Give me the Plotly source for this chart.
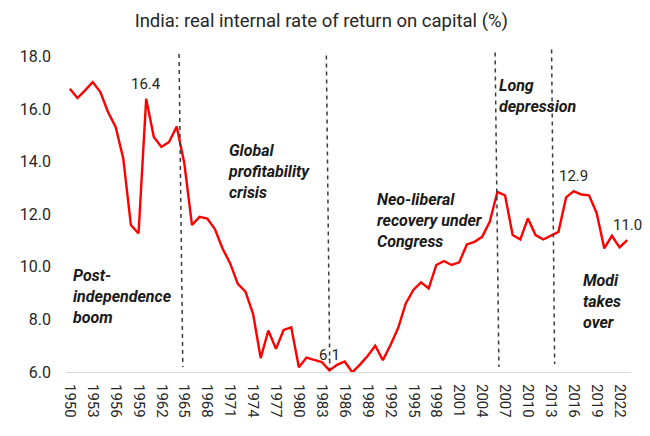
import plotly.graph_objects as go

# Real internal rate of return on capital, India (%)
years = list(range(1950, 2024))
irr = [
    16.77, 16.42, 16.71, 17.03, 16.65, 15.89, 15.32, 14.12, 11.59, 11.27,  # 1950-59
    16.39, 14.94, 14.56, 14.75, 15.34, 13.93, 11.59, 11.90, 11.84, 11.44,  # 1960-69
    10.70, 10.13, 9.35, 9.06, 8.21, 6.53, 7.58, 6.88, 7.60, 7.70,          # 1970-79
    6.18, 6.55, 6.46, 6.38, 6.06, 6.27, 6.40, 5.99, 6.28, 6.61,            # 1980-89
    7.00, 6.45, 7.03, 7.67, 8.61, 9.12, 9.41, 9.18, 10.07, 10.22,          # 1990-99
    10.07, 10.17, 10.85, 10.95, 11.14, 11.71, 12.85, 12.72, 11.21, 11.04,  # 2000-09
    11.84, 11.21, 11.04, 11.17, 11.33, 12.64, 12.88, 12.75, 12.72, 12.05,  # 2010-19
    10.70, 11.18, 10.74, 11.02,                                            # 2020-23
]
tick_years = list(range(1950, 2023, 3))
ytick_vals = [6, 8, 10, 12, 14, 16, 18]

labelled_years = [1960, 1984, 2016, 2023]

# dashed period separators (hand drawn, slightly slanted): (x_top, y_top, x_bottom, y_bottom)
separators = [
    (1964.3, 18.10, 1964.8, 6.19),
    (1983.6, 18.04, 1984.05, 6.08),
    (2005.7, 18.15, 2006.2, 6.19),
    (2013.1, 18.27, 2013.5, 6.30),
]

periods = [
    ("Post-<br>independence<br>boom", 1950.1, 8.89),
    ("Global<br>profitability<br>crisis", 1970.4, 13.64),
    ("Neo-liberal<br>recovery under<br>Congress", 1990.0, 11.78),
    ("Long<br>depression", 2006.0, 16.5),
    ("Modi<br>takes<br>over", 2017.0, 8.70),
]

FONT = "Roboto"

fig = go.Figure()
fig.add_trace(go.Scatter(
    x=years, y=irr,
    mode='lines',
    line=dict(color='#FF0000', width=2.4),
    hoverinfo='skip',
))

for x0, y0, x1, y1 in separators:
    fig.add_shape(type='line', xref='x', yref='y',
                  x0=x0, y0=y0, x1=x1, y1=y1,
                  line=dict(color='#3a3a3a', width=1.5, dash='4px,4px'))

for yr in labelled_years:
    v = irr[years.index(yr)]
    fig.add_annotation(x=yr, y=v, text=f"{v:.1f}", showarrow=False,
                       yanchor='bottom', yshift=4,
                       font=dict(family=FONT, size=15, color='#262626'))

for txt, x, y in periods:
    fig.add_annotation(x=x, y=y, text=f"<b><i>{txt}</i></b>", showarrow=False,
                       xanchor='left', yanchor='middle', align='left',
                       font=dict(family=FONT, size=16, color='#1a1a1a'))

# the page body adds an 8px offset, so margins are shifted by that much
fig.update_layout(
    width=650, height=436,
    paper_bgcolor='white', plot_bgcolor='white',
    showlegend=False,
    margin=dict(l=47, r=27, t=37.5, b=72),
    title=dict(text="India: real internal rate of return on capital (%)",
               x=0.482, xanchor='center', y=0.972, yanchor='middle',
               font=dict(family=FONT, size=18.5, color='#262626')),
    font=dict(family=FONT, color='#262626'),
)
fig.update_xaxes(range=[1949.5, 2023.5], tickvals=tick_years, tickangle=90,
                 showgrid=False, zeroline=False,
                 showline=True, linecolor='#d9d9d9', linewidth=1,
                 ticks='', ticklabelstandoff=8,
                 tickfont=dict(size=15, color='#262626'))
fig.update_yaxes(range=[6, 18.4], tickvals=ytick_vals, tickformat='.1f',
                 showgrid=False, zeroline=False, showline=False,
                 ticks='', ticklabelstandoff=14,
                 tickfont=dict(size=16, color='#262626'))

fig.write_html("out.html")
